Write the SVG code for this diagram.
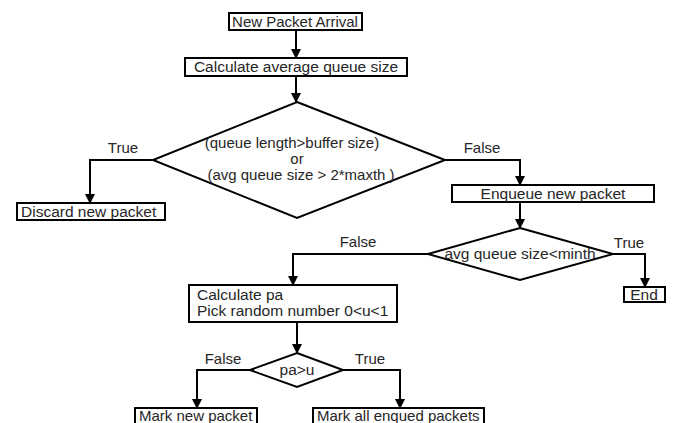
<svg xmlns="http://www.w3.org/2000/svg" width="675" height="423" viewBox="0 0 675 423">
<style>
.box{fill:#fff;stroke:#000;stroke-width:2}
.dia{fill:#fff;stroke:#000;stroke-width:2;stroke-linejoin:miter}
.t{font-family:"Liberation Sans",Arial,sans-serif;font-size:15.5px;fill:#262626}
.c{text-anchor:middle}
.lbl{font-family:"Liberation Sans",Arial,sans-serif;font-size:15px;fill:#262626;text-anchor:middle}
.ln{fill:none;stroke:#000;stroke-width:2}
</style>
<defs>
<marker id="ah" markerWidth="10" markerHeight="10" refX="9" refY="5" orient="auto" markerUnits="userSpaceOnUse">
<path d="M0,0 L10,5 L0,10 Z" fill="#000"/>
</marker>
</defs>
<rect width="675" height="423" fill="#fff"/>
<g id="connectors">
<path class="ln" d="M296,30 V58" marker-end="url(#ah)"/>
<path class="ln" d="M296,76 V102" marker-end="url(#ah)"/>
<path class="ln" d="M153,160 H90 V203" marker-end="url(#ah)"/>
<path class="ln" d="M445,160 H520 V185" marker-end="url(#ah)"/>
<path class="ln" d="M520,202 V228" marker-end="url(#ah)"/>
<path class="ln" d="M613,254 H645 V287" marker-end="url(#ah)"/>
<path class="ln" d="M428,254 H293 V285" marker-end="url(#ah)"/>
<path class="ln" d="M297,322 V353" marker-end="url(#ah)"/>
<path class="ln" d="M250,370 H197 V408" marker-end="url(#ah)"/>
<path class="ln" d="M343,370 H400 V408" marker-end="url(#ah)"/>
<text class="lbl" x="123" y="153">True</text>
<text class="lbl" x="482" y="153">False</text>
<text class="lbl" x="358" y="247">False</text>
<text class="lbl" x="629" y="248">True</text>
<text class="lbl" x="223" y="364">False</text>
<text class="lbl" x="370" y="364">True</text>
</g>
<g id="n-arrival">
<rect class="box" x="229" y="13" width="133" height="17"/>
<text class="t c" x="295" y="27" style="font-size:15px">New Packet Arrival</text>
</g>
<g id="n-avg">
<rect class="box" x="185" y="58" width="222" height="18"/>
<text class="t c" x="296" y="72">Calculate average queue size</text>
</g>
<g id="n-cond1" style="font-size:15px">
<polygon class="dia" points="297,102 445,160 297,218 153,160"/>
<text class="t c" x="292" y="148" style="font-size:15px">(queue length&gt;buffer size)</text>
<text class="t c" x="297" y="164" style="font-size:15px">or</text>
<text class="t c" x="301" y="180" style="font-size:15px">(avg queue size &gt; 2*maxth )</text>
</g>
<g id="n-discard">
<rect class="box" x="17" y="203" width="148" height="17"/>
<text class="t" x="21" y="217">Discard new packet</text>
</g>
<g id="n-enqueue">
<rect class="box" x="452" y="185" width="202" height="17"/>
<text class="t c" x="553" y="199">Enqueue new packet</text>
</g>
<g id="n-cond2">
<polygon class="dia" points="520,228 613,254 520,280 428,254"/>
<text class="t c" x="520" y="259">avg queue size&lt;minth</text>
</g>
<g id="n-end">
<rect class="box" x="624" y="287" width="41" height="15"/>
<text class="t c" x="644" y="300">End</text>
</g>
<g id="n-calcpa">
<rect class="box" x="189" y="285" width="208" height="37"/>
<text class="t" x="197" y="300">Calculate pa</text>
<text class="t" x="197" y="315.5">Pick random number 0&lt;u&lt;1</text>
</g>
<g id="n-cond3">
<polygon class="dia" points="297,353 343,370 297,387 250,370"/>
<text class="t c" x="297" y="375">pa&gt;u</text>
</g>
<g id="n-mark">
<rect class="box" x="135" y="408" width="122" height="20"/>
<text class="t" x="139" y="421" style="font-size:15px">Mark new packet</text>
</g>
<g id="n-markall">
<rect class="box" x="313" y="408" width="171" height="20"/>
<text class="t" x="317" y="421" style="font-size:15px">Mark all enqued packets</text>
</g>
</svg>
